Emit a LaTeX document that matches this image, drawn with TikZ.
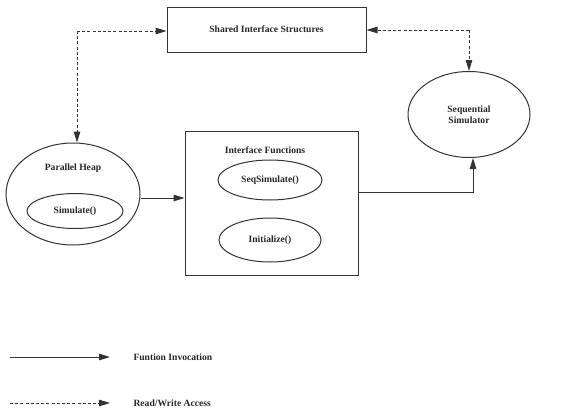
\documentclass[tikz,border=0pt]{standalone}
\usepackage{fontspec}
\setmainfont{Liberation Serif}
\usetikzlibrary{arrows.meta,shapes.geometric}
\begin{document}
\begin{tikzpicture}[x=1pt,y=-1pt,
  every node/.style={font=\fontsize{9.6}{11}\selectfont\bfseries, text=black!85},
  ln/.style={draw=black!80, line width=1pt},
  tip/.style={-{Triangle[length=11pt,width=6.5pt]}},
  rw/.style={ln, dash pattern=on 3pt off 2.2pt},
  oval/.style={ln, ellipse, inner sep=0pt}]
\useasboundingbox (0,0) rectangle (584,410);

% boxes
\node[ln, minimum width=199pt, minimum height=45pt, inner sep=0pt] (shared) at (266.5,29.5) {Shared Interface Structures};
\node[ln, minimum width=173pt, minimum height=144pt, inner sep=0pt] (iface) at (271.5,203) {};
\node (ifacetitle) at (265,150) {Interface Functions};

% ellipses
\node[oval, minimum width=134pt, minimum height=102pt] (heap) at (73,194) {};
\node (heaptitle) at (73,168) {Parallel Heap};
\node[oval, minimum width=96pt, minimum height=35pt] (sim) at (75,211) {Simulate()};
\node[oval, minimum width=104pt, minimum height=40pt] (seqsim) at (270,180) {SeqSimulate()};
\node[oval, minimum width=102pt, minimum height=44pt] (init) at (270,240) {Initialize()};
\node[oval, minimum width=122pt, minimum height=86pt, align=center] (seq) at (469,114.5) {Sequential\\Simulator};

% function invocation
\draw[ln, tip] (heap.east |- 0,198) -- (iface.west |- 0,198);
\coordinate (bend) at (473,192);
\draw[ln, tip] (iface.east |- bend) -- (bend) -- (seq.south -| bend);

% read/write access
\coordinate (lc) at (77,31);
\draw[rw, tip] (lc) -- (shared.west |- lc);
\draw[rw, tip] (lc) -- (heap.north -| lc);
\coordinate (rc) at (469,30);
\draw[rw, tip] (rc) -- (shared.east |- rc);
\draw[rw, tip] (rc) -- (seq.north);

% legend
\coordinate (l1a) at (10,357);
\coordinate (l1b) at (110,357);
\draw[ln, tip] (l1a) -- (l1b);
\node[anchor=west] (l1t) at (130,357) {Funtion Invocation};
\coordinate (l2a) at (10,403);
\coordinate (l2b) at (110,403);
\draw[rw, tip] (l2a) -- (l2b);
\node[anchor=west] (l2t) at (130,403) {Read/Write Access};
\end{tikzpicture}
\end{document}
